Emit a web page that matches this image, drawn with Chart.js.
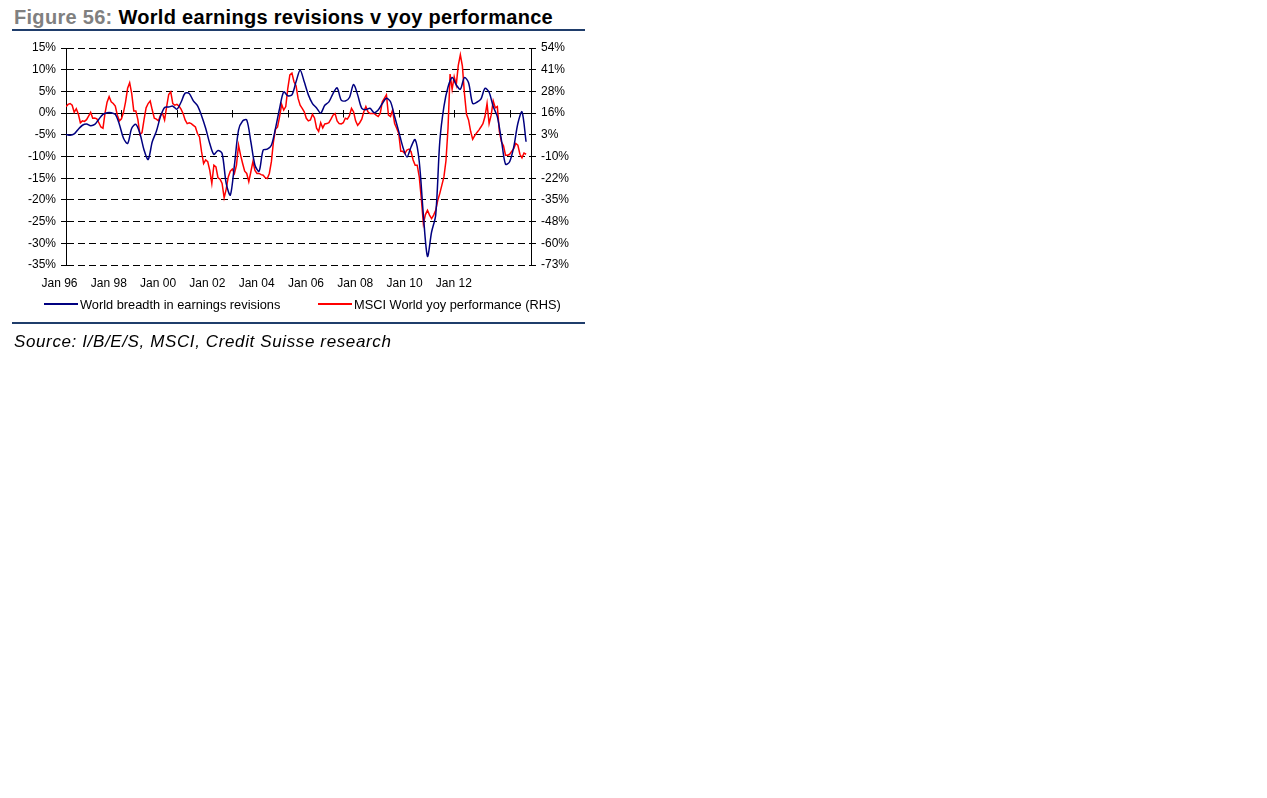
<!DOCTYPE html>
<html>
<head>
<meta charset="utf-8">
<script src="https://cdn.jsdelivr.net/npm/chart.js@4"></script>
<style>
  body { margin: 0; background: #fff; font-family: Arial, "Liberation Sans", sans-serif; }
  .title { position: absolute; left: 14px; top: 7px; font-size: 20px; line-height: 20px; font-weight: bold; letter-spacing: 0.3px; color: #000; white-space: nowrap; }
  .title .fig { color: #808080; }
  .rule { position: absolute; left: 12px; width: 573px; height: 2px; background: #1f3d6b; }
  #wrap { position: absolute; left: 0; top: 30px; width: 600px; height: 270px; }
  .legend { position: absolute; top: 298px; font-size: 12.8px; line-height: 14px; white-space: nowrap; }
  .legend i { display: inline-block; width: 34px; height: 2px; vertical-align: 4px; margin-right: 2px; }
  .source { position: absolute; left: 14px; top: 333px; font-size: 17px; line-height: 17px; font-style: italic; letter-spacing: 0.62px; white-space: nowrap; }
</style>
</head>
<body>
<div class="title"><span class="fig">Figure 56:</span> World earnings revisions v yoy performance</div>
<div class="rule" style="top:29px"></div>
<div id="wrap"><canvas id="chart" width="600" height="270"></canvas></div>
<div class="legend" style="left:44px"><i style="background:#000080"></i>World breadth in earnings revisions</div>
<div class="legend" style="left:318px"><i style="background:#ff0000"></i>MSCI World yoy performance (RHS)</div>
<div class="rule" style="top:322px"></div>
<div class="source">Source: I/B/E/S, MSCI, Credit Suisse research</div>

<script>
// months counted from Jan 96
const xTickLabels = ["Jan 96", "Jan 98", "Jan 00", "Jan 02", "Jan 04", "Jan 06", "Jan 08", "Jan 10", "Jan 12"];
const axisTickMonths = [27, 54, 81, 108, 135, 162, 189, 216];

// world breadth in earnings revisions (LHS, %), every 2 months
const breadthStep = 2;
const breadth = [
  -4.9, -5.1, -4.8, -3.7, -2.8, -2.5, -2.9, -2.6, -1.4, -0.3,
  0.1, 0.1, -0.3, -2.6, -5.8, -7.0, -3.5, -2.6, -4.7, -8.5,
  -10.7, -6.6, -4.2, -0.8, 1.3, 1.4, 1.6, 0.9, 2.5, 4.6,
  4.5, 2.8, 1.7, -0.6, -3.5, -7.0, -9.5, -8.6, -9.3, -16.2,
  -18.9, -12.0, -3.9, -1.8, -1.6, -6.6, -12.0, -13.4, -8.5, -8.3,
  -7.4, -3.5, 1.1, 4.9, 4.0, 4.2, 7.2, 9.9, 7.2, 4.2,
  2.2, 1.2, 0.0, 1.8, 2.6, 4.5, 5.8, 3.0, 2.8, 3.6,
  6.6, 4.2, 1.1, 0.8, 1.1, 0.1, 0.7, 2.2, 3.4, 2.6,
  -0.8, -4.2, -7.8, -10.1, -7.8, -6.1, -11.2, -23.5, -33.0, -27.4,
  -23.5, -6.5, 1.5, 6.0, 8.2, 6.5, 5.5, 8.2, 7.0, 2.2,
  2.5, 3.2, 5.7, 4.8, 1.5, -0.8, -6.2, -11.8, -11.2, -7.8,
  -2.4, 0.3, -6.6
];

// MSCI World yoy performance (RHS, %), monthly
const msciYoy = [
  19.5, 20.8, 21.3, 20.3, 16.2, 18.3, 15.2, 10.1, 11.2, 10.9,
  11.9, 14.0, 16.2, 12.7, 12.9, 12.4, 10.1, 7.6, 6.9, 15.7,
  22.1, 25.3, 22.3, 21.3, 19.8, 14.5, 11.2, 12.4, 16.2, 22.3,
  30.2, 33.4, 27.1, 17.0, 17.0, 11.9, 3.1, 4.3, 11.9, 18.8,
  21.3, 22.8, 17.5, 12.7, 12.2, 11.2, 14.5, 15.5, 11.7, 19.5,
  26.6, 28.1, 21.3, 20.3, 20.8, 19.8, 18.0, 15.5, 11.7, 9.6,
  10.1, 9.6, 8.6, 7.6, 3.8, 1.8, -6.8, -13.7, -11.6, -12.6,
  -17.7, -25.3, -14.7, -15.7, -22.0, -22.8, -25.3, -33.7, -28.6, -21.5,
  -18.2, -16.9, -19.5, -14.7, -3.0, -8.8, -13.7, -18.2, -19.5, -24.3,
  -18.5, -12.6, -17.7, -19.5, -19.5, -20.2, -20.5, -22.0, -22.5, -19.5,
  -12.6, -1.0, 6.3, 7.6, 13.7, 20.8, 17.5, 19.5, 30.2, 38.0,
  39.0, 34.0, 31.7, 24.3, 20.3, 18.5, 16.5, 12.7, 11.2, 11.7,
  15.0, 12.9, 6.9, 5.1, 10.1, 7.1, 9.4, 9.6, 10.1, 12.2,
  14.5, 15.5, 11.2, 9.6, 9.4, 10.1, 12.7, 12.2, 14.2, 18.5,
  16.5, 11.2, 8.6, 10.1, 12.2, 16.5, 19.5, 16.5, 15.5, 15.5,
  15.5, 14.5, 13.7, 15.5, 22.3, 24.3, 26.4, 14.5, 13.7, 17.5,
  9.6, 6.9, 3.8, -6.6, -6.6, -7.8, -5.8, -5.3, -6.8, -11.6,
  -14.7, -14.7, -21.5, -34.2, -48.8, -43.5, -41.0, -43.8, -45.8, -43.8,
  -41.0, -35.2, -31.1, -26.3, -21.5, -12.1, 6.9, 38.5, 29.6, 37.0,
  32.2, 43.6, 49.7, 43.1, 27.1, 15.0, 11.7, 5.1, 0.5, 2.6,
  4.3, 5.8, 7.6, 9.6, 13.7, 21.3, 9.6, 14.5, 22.8, 18.8,
  19.5, 5.1, -1.0, -3.3, -8.8, -8.8, -8.3, -6.6, -5.0, -2.0,
  -3.0, -8.3, -10.4, -7.6, -8.3
];

const FONT = "Arial, 'Liberation Sans', sans-serif";

// small tick marks where the category axis crosses 0%
const zeroAxisTicks = {
  id: "zeroAxisTicks",
  beforeDatasetsDraw(chart) {
    const { ctx, scales } = chart;
    const y0 = Math.round(scales.y.getPixelForValue(0)) + 0.5;
    ctx.save();
    ctx.strokeStyle = "#000";
    ctx.lineWidth = 1;
    ctx.beginPath();
    axisTickMonths.forEach(m => {
      const x = Math.round(scales.x.getPixelForValue(m)) + 0.5;
      ctx.moveTo(x, y0 - 3.5);
      ctx.lineTo(x, y0 + 4);
    });
    ctx.stroke();
    ctx.restore();
  }
};

new Chart(document.getElementById("chart"), {
  type: "line",
  data: {
    datasets: [
      {
        label: "World breadth in earnings revisions",
        data: breadth.map((v, i) => ({ x: i * breadthStep, y: v })),
        borderColor: "#000080",
        borderWidth: 1.5,
        pointRadius: 0,
        tension: 0.3,
        yAxisID: "y"
      },
      {
        label: "MSCI World yoy performance (RHS)",
        data: msciYoy.map((v, i) => ({ x: i, y: v })),
        borderColor: "#ff0000",
        borderWidth: 1.5,
        pointRadius: 0,
        tension: 0,
        yAxisID: "y1"
      }
    ]
  },
  options: {
    responsive: false,
    animation: false,
    events: [],
    layout: { padding: { left: 0, right: 0, top: 18, bottom: 0 } },
    plugins: { legend: { display: false }, tooltip: { enabled: false } },
    scales: {
      x: {
        type: "linear",
        min: 0,
        max: 226.4,
        grid: { display: false, drawTicks: false },
        border: { display: false },
        afterBuildTicks: s => { s.ticks = xTickLabels.map((l, i) => ({ value: i * 24 })); },
        afterFit: s => { s.height = 35; s.paddingLeft = 0; s.paddingRight = 0; },
        ticks: {
          autoSkip: false,
          maxRotation: 0,
          padding: 11,
          labelOffset: -6.5,
          color: "#000",
          font: { family: FONT, size: 12 },
          callback: (v, i) => xTickLabels[i]
        }
      },
      y: {
        position: "left",
        min: -35,
        max: 15,
        afterFit: s => { s.width = 66; s.paddingTop = 0; s.paddingBottom = 0; },
        grid: { color: "#000", lineWidth: 1, tickLength: 5 },
        border: {
          display: true, color: "#000", width: 1,
          dash: c => (c.tick && c.tick.value === 0 ? [] : [7, 4])
        },
        ticks: {
          stepSize: 5,
          padding: 5,
          color: "#000",
          font: { family: FONT, size: 12 },
          callback: v => v + "%"
        }
      },
      y1: {
        position: "right",
        min: -72.9,
        max: 53.7,
        afterFit: s => { s.width = 69; s.paddingTop = 0; s.paddingBottom = 0; },
        afterBuildTicks: s => {
          const t = [];
          for (let i = 0; i <= 10; i++) t.push({ value: s.min + i * (s.max - s.min) / 10 });
          s.ticks = t;
        },
        grid: { drawOnChartArea: false, color: "#000", tickLength: 5 },
        border: { display: true, color: "#000", width: 1 },
        ticks: {
          padding: 5,
          color: "#000",
          font: { family: FONT, size: 12 },
          callback: v => Math.round(v) + "%"
        }
      }
    }
  },
  plugins: [zeroAxisTicks]
});
</script>
</body>
</html>
